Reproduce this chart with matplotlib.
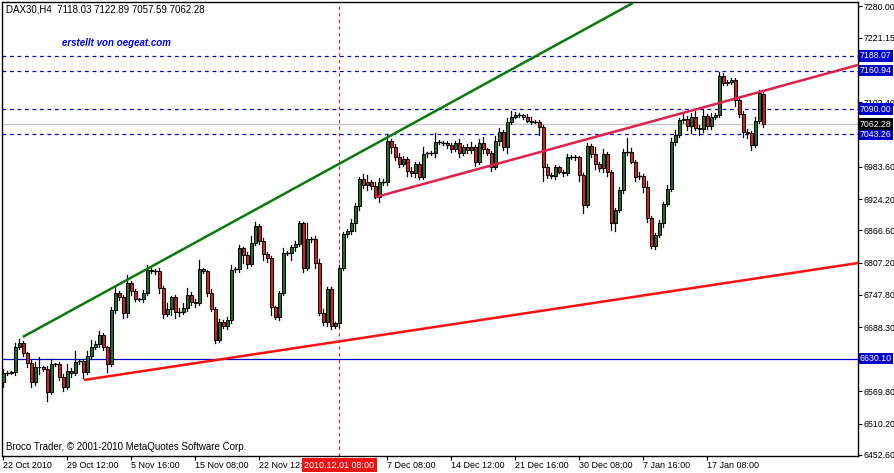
import matplotlib
matplotlib.use("Agg")
import matplotlib.pyplot as plt
from matplotlib.patches import Rectangle

plt.rcParams['font.family'] = ['Liberation Sans', 'DejaVu Sans']

first_open = 6587.7
closes = [
 6603.1, 6603.7, 6606.1, 6652.2, 6658.4, 6639.9, 6622.7, 6587.7, 6615.4, 6614.1,
 6610.4, 6569.3, 6619.6, 6619.6, 6596.9, 6578.5, 6608.0, 6603.1, 6624.6, 6625.8,
 6606.1, 6635.0, 6652.2, 6657.1, 6673.7, 6651.0, 6619.6, 6719.8, 6750.5, 6743.1,
 6713.6, 6768.9, 6755.4, 6739.4, 6739.4, 6751.7, 6793.5, 6791.7, 6791.7, 6761.0,
 6711.8, 6721.0, 6743.1, 6716.7, 6716.7, 6722.9, 6747.4, 6735.1, 6733.3, 6794.7,
 6791.0, 6751.7, 6721.0, 6664.5, 6698.3, 6690.3, 6701.4, 6793.5, 6794.7, 6833.4,
 6821.1, 6803.9, 6842.6, 6875.2, 6847.6, 6822.4, 6815.0, 6724.7, 6706.3, 6750.5,
 6825.4, 6824.2, 6835.3, 6841.4, 6879.5, 6796.6, 6850.0, 6850.0, 6805.8, 6714.9,
 6698.3, 6757.9, 6690.3, 6695.2, 6796.6, 6859.8, 6866.0, 6880.7, 6911.4, 6960.6,
 6950.1, 6956.3, 6948.9, 6928.6, 6955.7, 6956.3, 7031.8, 7020.8, 7002.3, 6988.8,
 6998.0, 6976.5, 6971.6, 6988.8, 6964.3, 7007.3, 7008.5, 7008.5, 7028.8, 7028.8,
 7028.1, 7023.8, 7015.9, 7028.1, 7009.7, 7019.5, 7014.6, 7020.8, 6993.1, 7028.1,
 7015.9, 7008.5, 6982.7, 7031.8, 7047.8, 7019.5, 7066.2, 7076.1, 7078.5, 7078.5,
 7076.1, 7068.7, 7066.8, 7066.8, 7057.6, 6982.7, 6968.6, 6967.3, 6982.7, 6974.7,
 6972.8, 7001.1, 7001.1, 7001.1, 6968.6, 6913.3, 7022.0, 7007.3, 6988.8, 6980.8,
 7007.3, 6974.7, 6879.5, 6904.1, 6940.9, 7011.6, 7011.6, 6993.1, 6965.5, 6966.7,
 6947.1, 6888.7, 6837.7, 6858.0, 6879.5, 6915.1, 6942.2, 7030.0, 7042.3, 7069.9,
 7071.1, 7058.8, 7076.0, 7055.8, 7052.7, 7077.3, 7058.8, 7076.0, 7079.1, 7151.0,
 7138.7, 7140.5, 7143.6, 7106.8, 7081.0, 7048.4, 7045.3, 7023.8, 7068.1, 7120.3,
 7062.28,
]
last_open, last_high, last_low = 7118.03, 7122.89, 7057.59
wick_up = [
 8, 3, 2, 6, 8, 4, 3, 5, 9, 18, 2, 6, 10, 2, 4, 5, 12, 4, 20, 3,
 4, 10, 12, 6, 8, 3, 2, 5, 12, 4, 4, 15, 5, 3, 2, 4, 10, 3, 4, 5,
 3, 12, 3, 4, 6, 10, 12, 5, 4, 18, 3, 3, 6, 4, 4, 3, 5, 10, 4, 6,
 3, 5, 14, 6, 3, 4, 5, 5, 3, 4, 8, 3, 4, 6, 5, 3, 30, 4, 6, 8,
 6, 4, 4, 3, 6, 4, 3, 6, 6, 4, 10, 12, 3, 6, 8, 4, 12, 3, 4, 6,
 5, 3, 6, 4, 3, 12, 3, 4, 18, 4, 3, 4, 3, 4, 6, 4, 6, 8, 3, 6,
 10, 3, 4, 8, 8, 4, 8, 10, 6, 4, 3, 4, 6, 3, 4, 3, 6, 3, 4, 3,
 3, 6, 4, 4, 3, 3, 6, 3, 12, 4, 10, 3, 3, 4, 5, 4, 25, 6, 4, 8,
 3, 10, 4, 4, 6, 4, 8, 6, 10, 4, 12, 6, 6, 10, 4, 12, 4, 6, 4, 8,
 6, 4, 3, 4, 6, 5, 4, 4, 8, 4, 4,
]
wick_dn = [
 10, 3, 2, 6, 5, 5, 8, 10, 6, 12, 3, 18, 5, 3, 6, 8, 5, 6, 4, 4,
 12, 4, 5, 4, 6, 5, 15, 4, 6, 5, 8, 6, 8, 4, 3, 5, 4, 3, 6, 10,
 6, 4, 10, 12, 8, 4, 5, 6, 8, 4, 3, 6, 3, 5, 4, 3, 6, 6, 4, 5,
 15, 6, 4, 3, 6, 10, 6, 15, 4, 5, 3, 4, 12, 6, 4, 6, 4, 5, 8, 4,
 6, 8, 6, 4, 6, 3, 5, 6, 15, 8, 6, 10, 6, 3, 10, 5, 6, 12, 6, 5,
 4, 10, 4, 6, 4, 3, 5, 3, 6, 3, 4, 6, 5, 4, 8, 4, 6, 5, 8, 4,
 6, 3, 6, 4, 8, 4, 10, 4, 3, 3, 4, 3, 4, 3, 15, 25, 6, 4, 6, 3,
 6, 5, 3, 4, 12, 15, 4, 5, 10, 4, 6, 8, 12, 15, 4, 5, 6, 3, 8, 4,
 10, 6, 4, 6, 4, 6, 4, 3, 6, 4, 6, 8, 12, 4, 10, 4, 5, 6, 4, 3,
 4, 5, 4, 12, 6, 10, 8, 10, 4, 4, 0,
]

hlines_dashed = [7188.07, 7160.94, 7090.00, 7043.26]
hline_solid = 6630.10
bid = 7062.28
ytick_vals = [7280.00, 7221.15, 7162.20, 7102.40, 7043.00, 6983.60, 6924.20,
              6866.60, 6807.20, 6747.80, 6688.30, 6629.00, 6569.80, 6510.20, 6452.60]
ytick_hidden = [7162.20, 7043.00, 6629.00]
xtick_bars = [0, 16, 32, 48, 64, 96, 112, 128, 144, 160, 176]
xtick_labels = ["22 Oct 2010", "29 Oct 12:00", "5 Nov 16:00", "15 Nov 08:00", "22 Nov 12:00",
                "7 Dec 08:00", "14 Dec 12:00", "21 Dec 16:00", "30 Dec 08:00", "7 Jan 16:00",
                "17 Jan 08:00"]
cursor_bar, cursor_label = 84, "2010.12.01 08:00"
green_line = [(4.9, 6670.0), (157.4, 7285.5)]
red_line = [(20.2, 6590.7), (213.7, 6806.3)]
crimson_line = [(93.2, 6928.0), (213.7, 7171.3)]

W, H = 894, 473
fig = plt.figure(figsize=(W/100, H/100), dpi=100)
L, R, T, B = 2, 858, 2, 456
ax = fig.add_axes([L/W, 1-B/H, (R-L)/W, (B-T)/H])
ax.set_xlim(-0.3, (R-L)/4 - 0.3)
ax.set_ylim(6450.6, 7287.4)
ax.set_facecolor("white")

opens = [first_open] + closes[:-1]
opens[-1] = last_open
n = len(closes)
for i in range(n):
    o, c = opens[i], closes[i]
    hi = max(o, c) + wick_up[i]
    lo = min(o, c) - wick_dn[i]
    if i == n - 1:
        hi, lo = last_high, last_low
    ax.plot([i, i], [lo, hi], color="black", lw=0.9, zorder=3)
    col = "#1f6b1f" if c >= o else "#e01818"
    hgt = abs(c - o)
    if hgt < 1.2:
        ax.plot([i-0.35, i+0.35], [c, c], color="black", lw=1, zorder=4)
    else:
        ax.add_patch(Rectangle((i-0.35, min(o, c)), 0.7, hgt, facecolor=col,
                               edgecolor="black", lw=0.7, zorder=4))

for v in hlines_dashed:
    ax.axhline(v, color="#0000cc", lw=0.9, ls=(0, (3, 3)), zorder=2)
ax.axhline(hline_solid, color="#0000cc", lw=0.9, zorder=2)
ax.axhline(bid, color="#c8c8c8", lw=1, zorder=1)
ax.axvline(cursor_bar, color="#cc2222", lw=0.8, ls=(0, (3, 3)), zorder=2)

def tline(pts, color):
    (x0, y0), (x1, y1) = pts
    ax.plot([x0, x1], [y0, y1], color=color, lw=1.8, zorder=5, solid_capstyle="butt")
tline(green_line, "#0a7a0a")
tline(red_line, "#ff1010")
tline(crimson_line, "#e0204a")

for s in ax.spines.values():
    s.set_color("black"); s.set_linewidth(1)
ax.yaxis.tick_right()
ax.set_yticks(ytick_vals)
ax.set_yticklabels(["" if v in ytick_hidden else f"{v:.2f}" for v in ytick_vals])
ax.tick_params(axis="y", direction="out", length=3, labelsize=6.3, pad=1, colors="black")
ax.set_xticks(xtick_bars)
ax.set_xticklabels([])
ax.tick_params(axis="x", direction="out", length=3)

def px(xp, yp):
    return xp / W, 1 - yp / H

for b, lab in zip(xtick_bars, xtick_labels):
    xp = L + 1.3 + 4 * b
    fig.text(*px(xp, 465), lab, fontsize=6.5, ha="left", va="center", zorder=1)
cx = L + 1.3 + 4 * cursor_bar
fig.text(*px(cx, 465), cursor_label, fontsize=6.5, ha="center", va="center", color="white",
         zorder=5, bbox=dict(boxstyle="square,pad=0.25", fc="#ee1111", ec="none"))

def box(v, fc):
    yp = T + (7287.4 - v) / (7287.4 - 6450.6) * (B - T)
    fig.text(*px(R + 2, yp), f"{v:.2f}", fontsize=6.3, ha="left", va="center", color="white",
             zorder=5, bbox=dict(boxstyle="square,pad=0.15", fc=fc, ec="none"))
for v in hlines_dashed + [hline_solid]:
    box(v, "#0000cc")
box(bid, "black")

fig.text(*px(6, 10), "DAX30,H4  7118.03 7122.89 7057.59 7062.28", fontsize=7, va="center")
fig.text(*px(62, 43), "erstellt von oegeat.com", fontsize=7, va="center", color="#0000ee",
         fontweight="bold", style="italic")
fig.text(*px(6, 447), "Broco Trader, © 2001-2010 MetaQuotes Software Corp.", fontsize=7, va="center")

fig.savefig("out.png", dpi=100, facecolor="white")
